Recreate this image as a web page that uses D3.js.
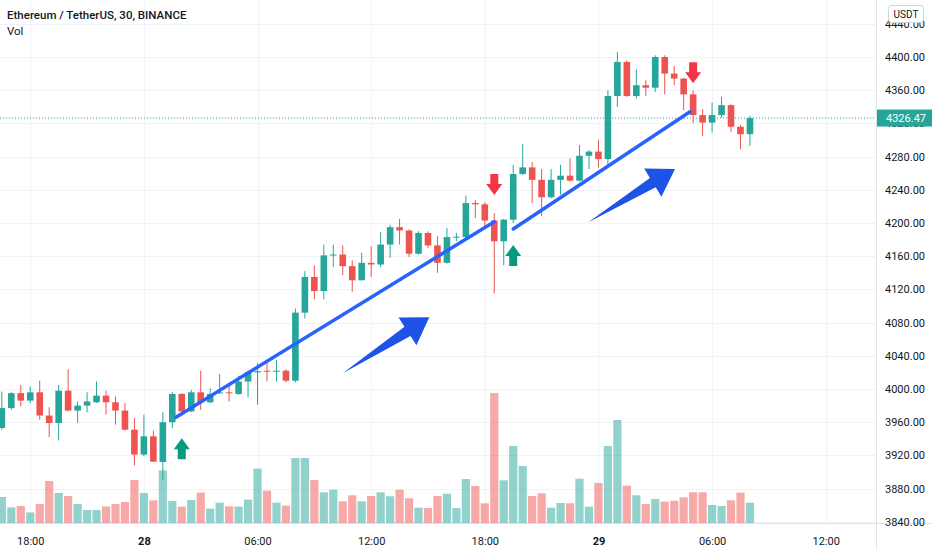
<!DOCTYPE html>
<html>
<head>
<meta charset="utf-8">
<script src="https://cdn.jsdelivr.net/npm/d3@7"></script>
<style>
  body { margin: 0; background: #fff; }
  svg { display: block; font-family: Roboto, "Liberation Sans", sans-serif; }
</style>
</head>
<body>
<svg id="chart" width="932" height="550"></svg>
<script>
// ETHUSDT 30 minute candles, first candle opens 27 Nov 16:30
var opens  = [3953,3977,3995,3986,3996,3968,3959,3998,3974,3980,3984,3992,3984,3974,3951,3921,3943,3912,3960,3994,
              3973,3996,3984,3995,3996,3994,4009,4020,4022,4021,4022,4010,4092,4135,4118,4161,4162,4148,4131,4152,
              4150,4174,4195,4191,4163,4188,4173,4152,4183,4183,4224,4222.5,4203,4178,4204,4259,4267,4252,4231,4252,
              4257,4251,4281,4286,4277,4353,4394,4353,4366,4363,4400,4380,4374,4355,4330,4321,4330,4342,4316,4307];
var highs  = [3997,3996,4005,4003,4010,3978,4005,4024,3985,3996,4009,3998,3991,3983,3965,3969,3950,3972,3996,3995,
              3999,4022,4001,4018,4005,4016,4022,4031,4035,4035,4024,4097,4142,4149,4174,4174,4173,4155,4164,4172,
              4189,4198,4205,4192,4190,4190,4184,4194,4188,4233,4228,4225,4212,4205,4270,4295,4273,4265,4265,4270,
              4278,4294,4288,4300,4360,4406,4396,4385,4372,4402,4402,4389,4375,4360,4337,4345,4352,4343,4318,4329];
var lows   = [3951,3975,3979,3983,3963,3942,3938,3973,3959,3972,3983,3969,3957,3950,3908,3919,3912,3890,3953,3972,
              3972,3975,3983,3994,3985,3993,3990,3981,4009,4009,4008,4008,4085,4108,4108,4147,4137,4117,4131,4135,
              4147,4158,4174,4159,4162,4170,4140,4151,4178,4182,4206,4196,4115,4149,4200,4258,4224,4208,4230,4234,
              4250,4250,4265,4267,4270,4340,4352,4350,4353,4358,4355,4366,4336,4320,4305,4309,4327,4310,4289,4293];
var closes = [3977,3995,3986,3996,3968,3959,3998,3974,3980,3985,3992,3984,3974,3951,3921,3943,3912.5,3960,3994,3973,
              3996,3984,3994,3996,3995,4009,4020,4021.5,4021,4022,4010,4092,4135,4118,4161,4162,4148,4131,4152,4150,
              4174,4195,4191,4163,4188,4173,4152,4183,4183.5,4224,4222.5,4203,4178,4204,4259,4267,4252,4231,4252,4257,
              4251,4281,4286,4277,4353,4394,4353,4366,4363,4400,4380,4374,4355,4330,4321,4330,4342,4316,4307,4326.47];
var volumes = [6500,3900,4250,2650,4750,10500,7500,6750,4750,3250,3250,4150,4750,5250,10750,7500,5650,13150,5500,4100,
               5750,7600,3600,5100,4180,4100,5850,13600,8100,5100,4350,16250,16250,10750,7680,8330,5430,6930,5430,6750,
               7680,6680,8330,6180,3830,3750,6750,7330,3750,11000,9250,4930,32500,10680,19250,14250,6750,7430,3830,5000,
               4930,11080,4080,10000,19250,25750,9330,6930,4750,6000,5330,5580,6430,7680,7680,4500,4250,5680,7580,5080];
var lastPrice = 4326.47;
var priceTicks = d3.range(3840, 4441, 40);

// drawings on the chart: [candle index, price]
var trendLines = [[18.39, 3966, 52.0, 4201.6], [54.0, 4192.8, 72.67, 4334.1]];
var bigArrows  = [[35.99, 4018.9, 45.14, 4086.4], [61.93, 4200.9, 71.08, 4265.1]];
var upMarks    = [[19, 3940.6], [54, 4173.5]];
var downMarks  = [[52, 4233.7], [73, 4368.3]];

var svg = d3.select("#chart"),
    plotW = 876,
    plotH = 523;

var t0 = new Date(2021, 10, 27, 16, 30);
function timeAt(i) { return new Date(t0.getTime() + i * 30 * 60000); }

var x = d3.scaleTime().domain([timeAt(-0.195), timeAt(92.31)]).range([0, plotW]);
var y = d3.scaleLinear().domain([3840, 4440]).range([521.8, 23.8]);
var yVol = d3.scaleLinear().domain([0, 50000]).range([plotH, plotH - 200]);
function xi(i) { return x(timeAt(i)); }

var up = "#26a69a", down = "#ef5350";
var candles = opens.map(function(o, i) {
  return {i: i, o: o, h: highs[i], l: lows[i], c: closes[i], v: volumes[i]};
});

var timeTicks = d3.timeHour.every(6).range(new Date(2021, 10, 27, 18), new Date(2021, 10, 29, 13));

// grid
var grid = svg.append("g").attr("stroke", "#f0f3fa").attr("stroke-width", 1);
grid.selectAll("line.h").data(priceTicks).enter().append("line")
    .attr("x1", 0).attr("x2", plotW)
    .attr("y1", function(d) { return Math.round(y(d)) + 0.5; })
    .attr("y2", function(d) { return Math.round(y(d)) + 0.5; });
grid.selectAll("line.v").data(timeTicks).enter().append("line")
    .attr("y1", 0).attr("y2", plotH)
    .attr("x1", function(d) { return Math.round(x(d)) + 0.5; })
    .attr("x2", function(d) { return Math.round(x(d)) + 0.5; });

// volume
svg.append("g").selectAll("rect").data(candles).enter().append("rect")
    .attr("x", function(d) { return xi(d.i) - 4.1; })
    .attr("width", 8.2)
    .attr("y", function(d) { return yVol(d.v); })
    .attr("height", function(d) { return plotH - yVol(d.v); })
    .attr("fill", function(d) { return d.c >= d.o ? up : down; })
    .attr("fill-opacity", 0.5);

// candles
var cg = svg.append("g").selectAll("g").data(candles).enter().append("g")
    .attr("fill", function(d) { return d.c >= d.o ? up : down; })
    .attr("stroke", function(d) { return d.c >= d.o ? up : down; });
cg.append("line")
    .attr("x1", function(d) { return xi(d.i); })
    .attr("x2", function(d) { return xi(d.i); })
    .attr("y1", function(d) { return y(d.h); })
    .attr("y2", function(d) { return y(d.l); })
    .attr("stroke-width", 1);
cg.append("rect")
    .attr("x", function(d) { return xi(d.i) - 3.3; })
    .attr("width", 6.6)
    .attr("y", function(d) { return y(Math.max(d.o, d.c)); })
    .attr("height", function(d) { return Math.max(1, Math.abs(y(d.o) - y(d.c))); })
    .attr("stroke", "none");

// last price line
svg.append("line")
    .attr("x1", 0).attr("x2", plotW)
    .attr("y1", y(lastPrice)).attr("y2", y(lastPrice))
    .attr("stroke", up).attr("stroke-width", 1).attr("stroke-dasharray", "1,2");

// trend lines
svg.append("g").selectAll("line").data(trendLines).enter().append("line")
    .attr("x1", function(d) { return xi(d[0]); })
    .attr("y1", function(d) { return y(d[1]); })
    .attr("x2", function(d) { return xi(d[2]); })
    .attr("y2", function(d) { return y(d[3]); })
    .attr("stroke", "#2962ff").attr("stroke-width", 3.5).attr("stroke-linecap", "round");

// big drawn arrows
function arrowPoints(d) {
  var tx = xi(d[0]), ty = y(d[1]), px = xi(d[2]), py = y(d[3]);
  var len = Math.hypot(px - tx, py - ty), ux = (px - tx) / len, uy = (py - ty) / len;
  var nx = -uy, ny = ux, headLen = 26, headHalf = 16.5, shaftHalf = 5.5;
  var bx = px - ux * headLen, by = py - uy * headLen;
  return [[tx, ty], [bx + nx * shaftHalf, by + ny * shaftHalf], [bx + nx * headHalf, by + ny * headHalf],
          [px, py], [bx - nx * headHalf, by - ny * headHalf], [bx - nx * shaftHalf, by - ny * shaftHalf]];
}
svg.append("g").selectAll("polygon").data(bigArrows).enter().append("polygon")
    .attr("points", function(d) { return arrowPoints(d).map(function(p) { return p.join(","); }).join(" "); })
    .attr("fill", "#1f52e6");

// arrow marks
svg.append("g").selectAll("path").data(upMarks).enter().append("path")
    .attr("transform", function(d) { return "translate(" + xi(d[0]) + "," + y(d[1]) + ")"; })
    .attr("d", "M0,0L8,11L4,11L4,21L-4,21L-4,11L-8,11Z")
    .attr("fill", "#089981");
svg.append("g").selectAll("path").data(downMarks).enter().append("path")
    .attr("transform", function(d) { return "translate(" + xi(d[0]) + "," + y(d[1]) + ")"; })
    .attr("d", "M0,0L8,-11L4,-11L4,-21L-4,-21L-4,-11L-8,-11Z")
    .attr("fill", "#f23645");

// axes panes
svg.append("rect").attr("x", plotW).attr("y", 0).attr("width", 932 - plotW).attr("height", 550).attr("fill", "#fff");
svg.append("rect").attr("x", 0).attr("y", plotH).attr("width", 932).attr("height", 550 - plotH).attr("fill", "#fff");
svg.append("line").attr("x1", plotW + 0.5).attr("x2", plotW + 0.5).attr("y1", 0).attr("y2", 550).attr("stroke", "#e0e3eb");
svg.append("line").attr("x1", 0).attr("x2", 932).attr("y1", plotH + 0.5).attr("y2", plotH + 0.5).attr("stroke", "#e0e3eb");

// price axis
var yAxis = svg.append("g")
    .attr("transform", "translate(" + plotW + ",0)")
    .call(d3.axisRight(y).tickValues(priceTicks).tickSize(0).tickPadding(9).tickFormat(d3.format(".2f")));
yAxis.select(".domain").remove();
yAxis.selectAll("text").attr("font-size", 11).attr("fill", "#131722").attr("font-family", "Roboto, sans-serif");

// time axis
var fmtHour = d3.timeFormat("%H:%M");
var xAxis = svg.append("g")
    .attr("transform", "translate(0," + plotH + ")")
    .call(d3.axisBottom(x).tickValues(timeTicks).tickSize(0).tickPadding(14)
      .tickFormat(function(d) { return d.getHours() === 0 ? d.getDate() : fmtHour(d); }));
xAxis.select(".domain").remove();
xAxis.selectAll("text").attr("font-size", 11).attr("fill", "#131722").attr("font-family", "Roboto, sans-serif")
    .attr("font-weight", function(d) { return d.getHours() === 0 ? "bold" : null; });

// last price label
var lp = svg.append("g").attr("transform", "translate(" + (plotW + 1) + "," + y(lastPrice) + ")");
lp.append("rect").attr("x", 0).attr("y", -8.5).attr("width", 932 - plotW - 1).attr("height", 17).attr("fill", up);
lp.append("text").attr("x", 9).attr("dy", "0.35em").attr("fill", "#fff").attr("font-size", 11).text(lastPrice.toFixed(2));

// currency badge
var cur = svg.append("g");
cur.append("rect").attr("x", 888.5).attr("y", 5.5).attr("width", 35).attr("height", 17).attr("rx", 3)
    .attr("fill", "#fff").attr("stroke", "#d1d4dc");
cur.append("text").attr("x", 906).attr("y", 14).attr("dy", "0.35em").attr("text-anchor", "middle")
    .attr("font-size", 10).attr("fill", "#131722").text("USDT");

// legend
svg.append("text").attr("x", 7).attr("y", 19).attr("font-size", 11.5).attr("font-weight", 500).attr("fill", "#131722")
    .text("Ethereum / TetherUS, 30, BINANCE");
svg.append("text").attr("x", 7).attr("y", 34.5).attr("font-size", 11.5).attr("fill", "#131722").text("Vol");
</script>
</body>
</html>
